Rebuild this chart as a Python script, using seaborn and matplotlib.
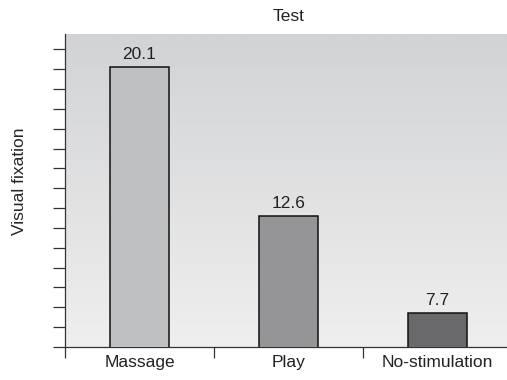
import numpy as np
import matplotlib
matplotlib.use("Agg")
import matplotlib.pyplot as plt
from matplotlib import font_manager
from matplotlib.colors import LinearSegmentedColormap
from matplotlib.ticker import FixedLocator, MultipleLocator
import seaborn as sns

# Data
categories = ["Massage", "Play", "No-stimulation"]
fixation = [20.1, 12.6, 7.7]
bar_colors = ["#bfc0c2", "#959597", "#69696b"]
title = "Test"
ylabel = "Visual fixation"

sns.set_style("white")
available = {f.name for f in font_manager.fontManager.ttflist}
family = [f for f in ["Liberation Sans Narrow", "Liberation Sans", "DejaVu Sans"] if f in available]
plt.rcParams["font.family"] = family
plt.rcParams["text.color"] = "#222222"
FS = 12.5

fig = plt.figure(figsize=(5.07, 3.80), dpi=100)
W, H = 507, 380
ax = fig.add_axes([65 / W, (H - 347) / H, (512 - 65) / W, (347 - 34) / H])

sns.barplot(x=categories, y=fixation, hue=categories, palette=bar_colors,
            width=0.4, edgecolor="#111111", linewidth=1.1, legend=False,
            saturation=1, ax=ax, zorder=3)

for cont in ax.containers:
    ax.bar_label(cont, fmt="%.1f", padding=4, fontsize=FS, color="#222222")

# Vertical gray gradient behind the bars
grad = np.linspace(0, 1, 256)[:, None]
cmap = LinearSegmentedColormap.from_list("bg", ["#efefef", "#d2d3d5"])
ax.imshow(grad, extent=[0, 1, 0, 1], transform=ax.transAxes, aspect="auto",
          cmap=cmap, origin="lower", zorder=0)

ax.set_xlim(-0.5, 2.5)
ax.set_ylim(6, 21.78)

ax.set_title(title, fontsize=FS, pad=9.5)
ax.set_ylabel(ylabel, fontsize=FS)
ax.yaxis.set_label_coords(-0.085, 0.53)

for side in ["top", "right"]:
    ax.spines[side].set_visible(False)
for side in ["left", "bottom"]:
    ax.spines[side].set_color("#333333")
    ax.spines[side].set_linewidth(0.9)

ax.yaxis.set_major_locator(MultipleLocator(1))
ax.tick_params(axis="y", which="major", direction="out", length=8.6, width=0.9,
               color="#333333", labelleft=False, left=True)
ax.xaxis.set_minor_locator(FixedLocator([-0.5, 0.5, 1.5, 2.5]))
ax.tick_params(axis="x", which="minor", direction="out", length=8, width=0.9,
               color="#333333", bottom=True)
ax.tick_params(axis="x", which="major", length=0, pad=6, labelsize=FS,
               labelcolor="#222222")

fig.savefig("out.png", dpi=100)
